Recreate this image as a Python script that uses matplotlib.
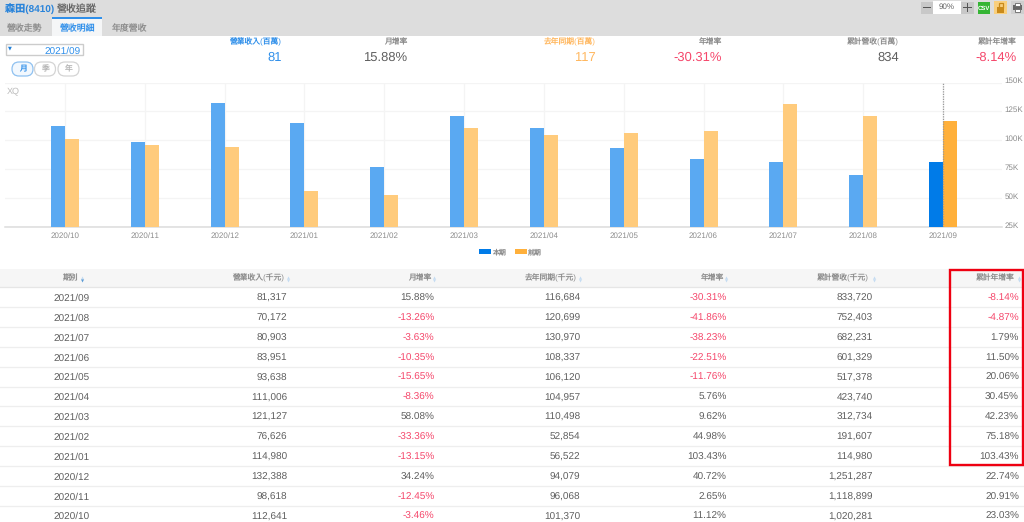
import matplotlib
matplotlib.use('Agg')
import matplotlib.pyplot as plt
from matplotlib.patches import Rectangle, FancyBboxPatch
from matplotlib.ticker import FuncFormatter
from matplotlib.transforms import ScaledTranslation

plt.rcParams['font.family'] = ['Liberation Sans', 'Noto Sans CJK TC', 'DejaVu Sans']
plt.rcParams['text.hinting'] = 'none'
plt.rcParams['text.hinting_factor'] = 1

periods = ['2021/09','2021/08','2021/07','2021/06','2021/05','2021/04','2021/03','2021/02','2021/01','2020/12','2020/11','2020/10']
revenue = [81317,70172,80903,83951,93638,111006,121127,76626,114980,132388,98618,112641]
mom = [15.88,-13.26,-3.63,-10.35,-15.65,-8.36,58.08,-33.36,-13.15,34.24,-12.45,-3.46]
prior = [116684,120699,130970,108337,106120,104957,110498,52854,56522,94079,96068,101370]
yoy = [-30.31,-41.86,-38.23,-22.51,-11.76,5.76,9.62,44.98,103.43,40.72,2.65,11.12]
cum = [833720,752403,682231,601329,517378,423740,312734,191607,114980,1251287,1118899,1020281]
cum_yoy = [-8.14,-4.87,1.79,11.50,20.06,30.45,42.23,75.18,103.43,22.74,20.91,23.03]
headers = ['期別','營業收入(千元)','月增率','去年同期(千元)','年增率','累計營收(千元)','累計年增率']
summary_labels = ['營業收入(百萬)','月增率','去年同期(百萬)','年增率','累計營收(百萬)','累計年增率']
summary_values = ['81','15.88%','117','-30.31%','834','-8.14%']
yticks = [25000,50000,75000,100000,125000,150000]

W, H = 1024, 522
BLUE, ORANGE = '#007be8', '#ffb03b'
LBLUE, LORANGE = '#5aa9f2', '#ffcb7c'
TXT, RED, LINK = '#5f5f5f', '#f5476b', '#2f8fea'
GRAY = '#8c8c8c'

fig = plt.figure(figsize=(W/100, H/100), dpi=100, facecolor='white')
bg = fig.add_axes([0, 0, 1, 1])
bg.set_xlim(0, W); bg.set_ylim(H, 0); bg.axis('off')

# top chrome
bg.add_patch(Rectangle((0, 0), W, 36, fc='#dddddd', ec='none'))
bg.add_patch(Rectangle((52, 18), 50, 18, fc='#f5f6f7', ec='none'))
bg.add_patch(Rectangle((52, 17), 50, 1.5, fc='#2f8fea', ec='none'))
bg.text(5, 12, '森田(8410)', color='#2a84da', fontsize=7.3, weight='bold', va='baseline')
bg.text(57, 12, '營收追蹤', color='#666666', fontsize=7.2, va='baseline')
for x, t, c in [(7, '營收走勢', GRAY), (60, '營收明細', LINK), (112, '年度營收', GRAY)]:
    bg.text(x, 31.5, t, color=c, fontsize=6.4, va='baseline')

# toolbar
bg.add_patch(Rectangle((921, 1.5), 12, 12.5, fc='#c8c8c8', ec='none'))
bg.add_patch(Rectangle((933, 1), 28, 13, fc='white', ec='none'))
bg.add_patch(Rectangle((961, 1.5), 12.5, 12.5, fc='#c8c8c8', ec='none'))
bg.add_patch(Rectangle((923, 7), 8, 1, fc='#555555', ec='none'))
bg.add_patch(Rectangle((963, 7), 8.5, 1, fc='#555555', ec='none'))
bg.add_patch(Rectangle((966.8, 3.2), 1, 8.5, fc='#555555', ec='none'))
bg.text(947, 9, '90%', ha='center', va='baseline', fontsize=5.6, color='#666666')
bg.add_patch(Rectangle((978, 1.5), 12, 12.5, fc='#35b534', ec='none'))
bg.text(984, 10, 'CSV', ha='center', va='baseline', fontsize=4.2, color='white', weight='bold')
bg.add_patch(Rectangle((994, 1), 13, 13, fc='#f9cf7d', ec='none'))
bg.add_patch(Rectangle((997, 7), 7, 5.5, fc='#c98a1a', ec='none'))
bg.add_patch(Rectangle((998.5, 3), 4, 5, fc='none', ec='#c98a1a', lw=0.9))
bg.add_patch(Rectangle((1011, 1), 13, 13, fc='#cfcfcf', ec='none'))
bg.add_patch(Rectangle((1013, 5), 9, 5, fc='#666666', ec='none'))
bg.add_patch(Rectangle((1015, 2.5), 5, 3, fc='white', ec='#666666', lw=0.6))
bg.add_patch(Rectangle((1015, 9), 5, 3, fc='white', ec='#666666', lw=0.6))

# date control
bg.add_patch(Rectangle((5.5, 43.5), 77, 11.5, fc='white', ec='#cccccc', lw=1))
bg.text(9.5, 48.5, '▼', color='#1f7fd8', fontsize=3.8, ha='center', va='center', family=['DejaVu Sans'])
bg.text(80.5, 53.5, '2021/09', color=LINK, fontsize=7.3, ha='right', va='baseline')
for cx, t, active in [(22.5, '月', True), (45, '季', False), (68.5, '年', False)]:
    bg.add_patch(FancyBboxPatch((cx-10.5, 62), 21, 14, boxstyle='round,pad=0,rounding_size=7',
                                fc='#f2f8fe' if active else 'white',
                                ec='#8fc1f0' if active else '#d4d4d4', lw=0.9, mutation_aspect=1))
    bg.text(cx, 71.7, t, color=LINK if active else '#b5b5b5', fontsize=5.6, ha='center', va='baseline')

# summary row
sum_right = [282, 407, 596, 722, 899, 1017]
sum_lab_col = [LINK, GRAY, '#ffb75e', GRAY, GRAY, GRAY]
sum_val_col = [LINK, TXT, '#ffb75e', RED, TXT, RED]
for x, l, v, lc, vc in zip(sum_right, summary_labels, summary_values, sum_lab_col, sum_val_col):
    bg.text(x, 44.3, l, color=lc, fontsize=5.6, ha='right', va='baseline')
    bg.text(x, 61, v, color=vc, fontsize=9.5, ha='right', va='baseline')

# chart
L, R, T, B = 5, 1002, 82.5, 227
chart = fig.add_axes([L/W, 1-B/H, (R-L)/W, (B-T)/H], facecolor='none')
cur = revenue[::-1]; prev = prior[::-1]; labels = periods[::-1]
xs = list(range(len(labels)))
step = (943-65)/11
chart.set_xlim((L-65)/step, (R-65)/step)
chart.set_ylim(yticks[0], yticks[-1])
bw = 14/step
last = len(xs)-1
chart.bar([x-bw/2 for x in xs], [v-yticks[0] for v in cur], bw, bottom=yticks[0],
          color=[BLUE if i == last else LBLUE for i in xs], zorder=3)
chart.bar([x+bw/2 for x in xs], [v-yticks[0] for v in prev], bw, bottom=yticks[0],
          color=[ORANGE if i == last else LORANGE for i in xs], zorder=3)
chart.axvline(last, color='#999999', lw=0.9, ls=(0, (1, 1)), zorder=4)
chart.set_xticks(xs); chart.set_xticklabels(labels)
chart.set_yticks(yticks)
chart.yaxis.set_major_formatter(FuncFormatter(lambda v, p: f'{int(v/1000)}K'))
chart.yaxis.tick_right()
chart.tick_params(axis='x', length=0, labelsize=5.8, labelcolor=GRAY, pad=4)
chart.tick_params(axis='y', length=0, labelsize=5.9, labelcolor=GRAY, pad=2)
shift = ScaledTranslation(0, 2/100, fig.dpi_scale_trans)
for lb in chart.get_yticklabels():
    lb.set_verticalalignment('center_baseline')
    lb.set_transform(lb.get_transform() + shift)
chart.grid(True, color='#f4f4f4', lw=0.9, zorder=0)
chart.set_axisbelow(True)
for s in ['top', 'left', 'right']:
    chart.spines[s].set_visible(False)
chart.spines['bottom'].set_color('#dcdcdc')
chart.spines['bottom'].set_linewidth(1.1)
bg.text(7, 93.5, 'XQ', color='#bbbbbb', fontsize=6.3, va='baseline')

# legend
bg.add_patch(Rectangle((479, 249), 12, 5, fc=BLUE, ec='none'))
bg.text(492, 254, '本期', color=GRAY, fontsize=5, va='baseline')
bg.add_patch(Rectangle((515, 249), 12, 5, fc=ORANGE, ec='none'))
bg.text(528, 254, '前期', color=GRAY, fontsize=5, va='baseline')

# table
bg.add_patch(Rectangle((0, 269), W, 18, fc='#f6f6f6', ec='none'))
head_right = [79, 285, 431, 577, 724, 869, 1015]
icon_x = [83, 289, 435, 581, 727, 875, 1020]
for i, (x, ix, t) in enumerate(zip(head_right, icon_x, headers)):
    bg.text(x, 280.5, t, color=GRAY, fontsize=5.6, ha='right', va='baseline')
    bg.text(ix, 278.2, '▲', color='#c5dcf2', fontsize=3.2, ha='center', va='center', family=['DejaVu Sans'])
    bg.text(ix, 281.6, '▼', color='#5b9bd5' if i == 0 else '#c5dcf2', fontsize=3.2, ha='center', va='center', family=['DejaVu Sans'])

row0, row_h = 297.3, 19.85
col_right = [287.5, 434.5, 580.5, 726.5, 872.5, 1019]
for i, p in enumerate(periods):
    y = row0 + i*row_h
    bg.plot([0, W], [y+9.9, y+9.9], color='#eeeeee', lw=0.9, zorder=1)
    bg.text(72, y+3.7, p, color=TXT, fontsize=7.3, ha='center', va='baseline')
    cells = [f'{revenue[i]:,}', f'{mom[i]:.2f}%', f'{prior[i]:,}', f'{yoy[i]:.2f}%', f'{cum[i]:,}', f'{cum_yoy[i]:.2f}%']
    for x, c in zip(col_right, cells):
        bg.text(x, y+3.7, c, color=RED if c.startswith('-') else TXT, fontsize=7.3, ha='right', va='baseline')
bg.plot([0, W], [287, 287], color='#e6e6e6', lw=0.9, zorder=1)

# highlight
bg.add_patch(Rectangle((950.4, 270.2), 72.4, 194.8, fc='none', ec='#ee0011', lw=1.7, zorder=6))

fig.savefig('out.png', dpi=100)
